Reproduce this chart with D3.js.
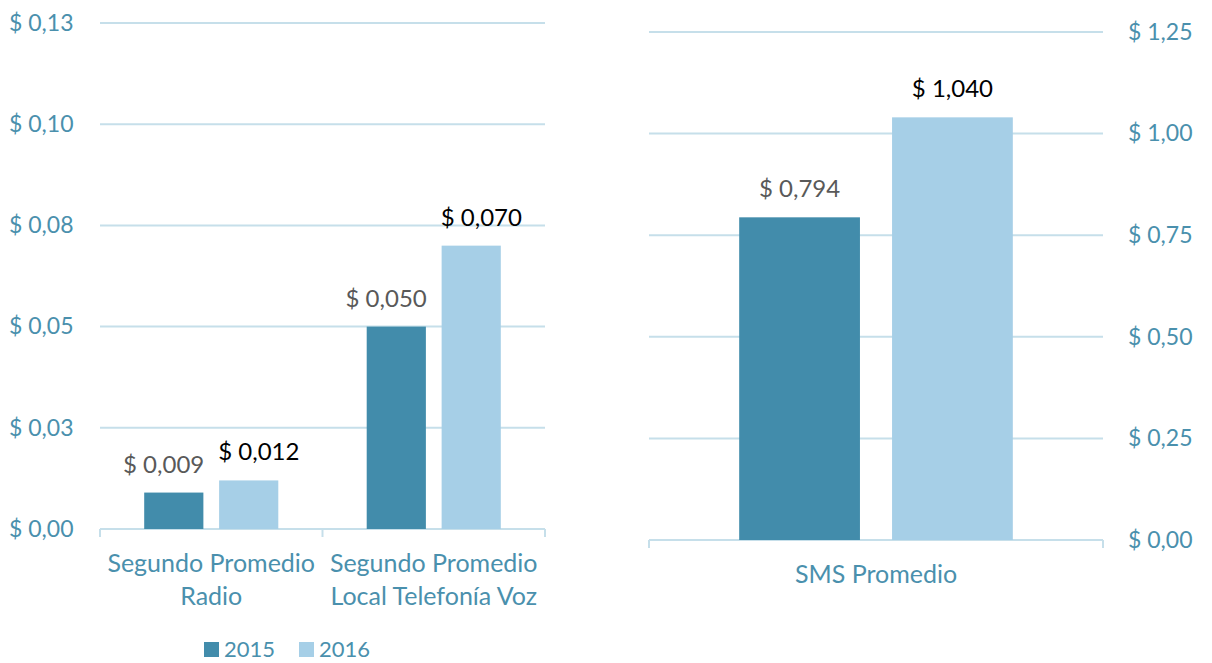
<!DOCTYPE html>
<html>
<head>
<meta charset="utf-8">
<script src="https://cdn.jsdelivr.net/npm/d3@7"></script>
<style>
  body { margin: 0; background: #fff; }
  text { font-family: Lato, "Open Sans", sans-serif; }
</style>
</head>
<body>
<svg width="1212" height="663"></svg>
<script>
var series = ["2015", "2016"];

var leftCategories = ["Segundo Promedio Radio", "Segundo Promedio Local Telefonía Voz"];
var leftValues2015 = [0.009, 0.050];
var leftValues2016 = [0.012, 0.070];
var leftLabels2015 = ["$ 0,009", "$ 0,050"];
var leftLabels2016 = ["$ 0,012", "$ 0,070"];
var leftTicks = [0, 0.025, 0.05, 0.075, 0.1, 0.125];
var leftTickLabels = ["$ 0,00", "$ 0,03", "$ 0,05", "$ 0,08", "$ 0,10", "$ 0,13"];

var rightCategories = ["SMS Promedio"];
var rightValues2015 = [0.794];
var rightValues2016 = [1.040];
var rightLabels2015 = ["$ 0,794"];
var rightLabels2016 = ["$ 1,040"];
var rightTicks = [0, 0.25, 0.5, 0.75, 1, 1.25];
var rightTickLabels = ["$ 0,00", "$ 0,25", "$ 0,50", "$ 0,75", "$ 1,00", "$ 1,25"];

var colors = {"2015": "#428cab", "2016": "#a6cfe7"};
var labelColors = {"2015": "#595959", "2016": "#000000"};
var axisText = "#4a90ad",
    gridColor = "#c6dfea",
    fontSize = 23;

var svg = d3.select("svg");

function rows(cats, v15, v16, l15, l16) {
  return cats.map(function(c, i) {
    return {cat: c, vals: [
      {s: "2015", v: v15[i], label: l15[i]},
      {s: "2016", v: v16[i], label: l16[i]}
    ]};
  });
}

function wrap(words, width, probe) {
  var lines = [], cur = "";
  words.split(" ").forEach(function(w) {
    var t = cur ? cur + " " + w : w;
    probe.text(t);
    if (cur && probe.node().getComputedTextLength() > width) {
      lines.push(cur); cur = w;
    } else cur = t;
  });
  lines.push(cur);
  return lines;
}

function drawPanel(opt) {
  var data = rows(opt.cats, opt.v15, opt.v16, opt.l15, opt.l16);
  var g = svg.append("g");

  var y = d3.scaleLinear().domain([0, opt.ticks[opt.ticks.length - 1]]).range([opt.bottom, opt.top]);
  var x0 = d3.scaleBand().domain(opt.cats).range([opt.left, opt.right]);
  var x1 = d3.scaleBand().domain(series).range([0, x0.bandwidth()])
      .paddingInner(0.21).paddingOuter(0.59);

  // gridlines
  g.selectAll(".grid")
    .data(opt.ticks.slice(1))
    .enter().append("line")
      .attr("x1", opt.left).attr("x2", opt.right)
      .attr("y1", function(d) { return y(d); })
      .attr("y2", function(d) { return y(d); })
      .attr("stroke", gridColor).attr("stroke-width", 2);

  // value axis (labels only)
  var axis = (opt.side == "left" ? d3.axisLeft(y) : d3.axisRight(y))
      .tickValues(opt.ticks)
      .tickSize(0)
      .tickFormat(function(d, i) { return opt.tickLabels[i]; });
  var ag = g.append("g")
      .attr("transform", "translate(" + opt.axisX + ",0)")
      .call(axis);
  ag.select(".domain").remove();
  ag.selectAll("text")
      .attr("x", 0)
      .attr("text-anchor", "start")
      .attr("fill", axisText)
      .style("font-size", fontSize + "px");

  // category axis line with tick marks
  g.append("line")
      .attr("x1", opt.left).attr("x2", opt.right)
      .attr("y1", opt.bottom).attr("y2", opt.bottom)
      .attr("stroke", gridColor).attr("stroke-width", 2);
  var edges = opt.cats.map(function(c) { return x0(c); }).concat([opt.right]);
  g.selectAll(".ctick")
    .data(edges)
    .enter().append("line")
      .attr("x1", function(d) { return d; }).attr("x2", function(d) { return d; })
      .attr("y1", opt.bottom).attr("y2", opt.bottom + 8)
      .attr("stroke", gridColor).attr("stroke-width", 2);

  // bars
  var cg = g.selectAll(".cat")
    .data(data)
    .enter().append("g")
      .attr("transform", function(d) { return "translate(" + x0(d.cat) + ",0)"; });

  cg.selectAll("rect")
    .data(function(d) { return d.vals; })
    .enter().append("rect")
      .attr("x", function(d) { return x1(d.s); })
      .attr("width", x1.bandwidth())
      .attr("y", function(d) { return y(d.v); })
      .attr("height", function(d) { return opt.bottom - y(d.v); })
      .attr("fill", function(d) { return colors[d.s]; });

  // data labels, nudged apart when they collide
  cg.each(function(d) {
    var sel = d3.select(this);
    var labs = d.vals.map(function(v) {
      var t = sel.append("text")
          .attr("text-anchor", "middle")
          .attr("x", x1(v.s) + x1.bandwidth() / 2)
          .attr("y", y(v.v) - 20)
          .attr("fill", labelColors[v.s])
          .style("font-size", "24px")
          .text(v.label);
      return {t: t, c: x1(v.s) + x1.bandwidth() / 2, w: t.node().getComputedTextLength()};
    });
    var a = labs[0], b = labs[1];
    var overlap = (a.c + a.w / 2) - (b.c - b.w / 2) + 14;
    if (overlap > 0) {
      a.t.attr("x", a.c - overlap / 2);
      b.t.attr("x", b.c + overlap / 2);
    }
  });

  // category labels
  var probe = g.append("text").style("font-size", "25px");
  data.forEach(function(d) {
    var lines = wrap(d.cat, x0.bandwidth() - 2, probe);
    var t = g.append("text")
        .attr("text-anchor", "middle")
        .attr("fill", axisText)
        .style("font-size", "25px");
    lines.forEach(function(l, i) {
      t.append("tspan")
          .attr("x", x0(d.cat) + x0.bandwidth() / 2)
          .attr("y", opt.bottom + 43 + i * 33)
          .text(l);
    });
  });
  probe.remove();
}

drawPanel({
  cats: leftCategories, v15: leftValues2015, v16: leftValues2016,
  l15: leftLabels2015, l16: leftLabels2016,
  ticks: leftTicks, tickLabels: leftTickLabels,
  left: 100, right: 545, top: 23, bottom: 529,
  side: "left", axisX: 9
});

drawPanel({
  cats: rightCategories, v15: rightValues2015, v16: rightValues2016,
  l15: rightLabels2015, l16: rightLabels2016,
  ticks: rightTicks, tickLabels: rightTickLabels,
  left: 649, right: 1103, top: 32, bottom: 540,
  side: "right", axisX: 1128
});

// legend
var legend = svg.append("g").attr("transform", "translate(204,642)");
var li = legend.selectAll("g")
  .data(series)
  .enter().append("g")
    .attr("transform", function(d, i) { return "translate(" + (i * 95) + ",0)"; });
li.append("rect")
    .attr("width", 15).attr("height", 15)
    .attr("fill", function(d) { return colors[d]; });
li.append("text")
    .attr("x", 20).attr("y", 15)
    .attr("fill", axisText)
    .style("font-size", "22px")
    .text(function(d) { return d; });
</script>
</body>
</html>
